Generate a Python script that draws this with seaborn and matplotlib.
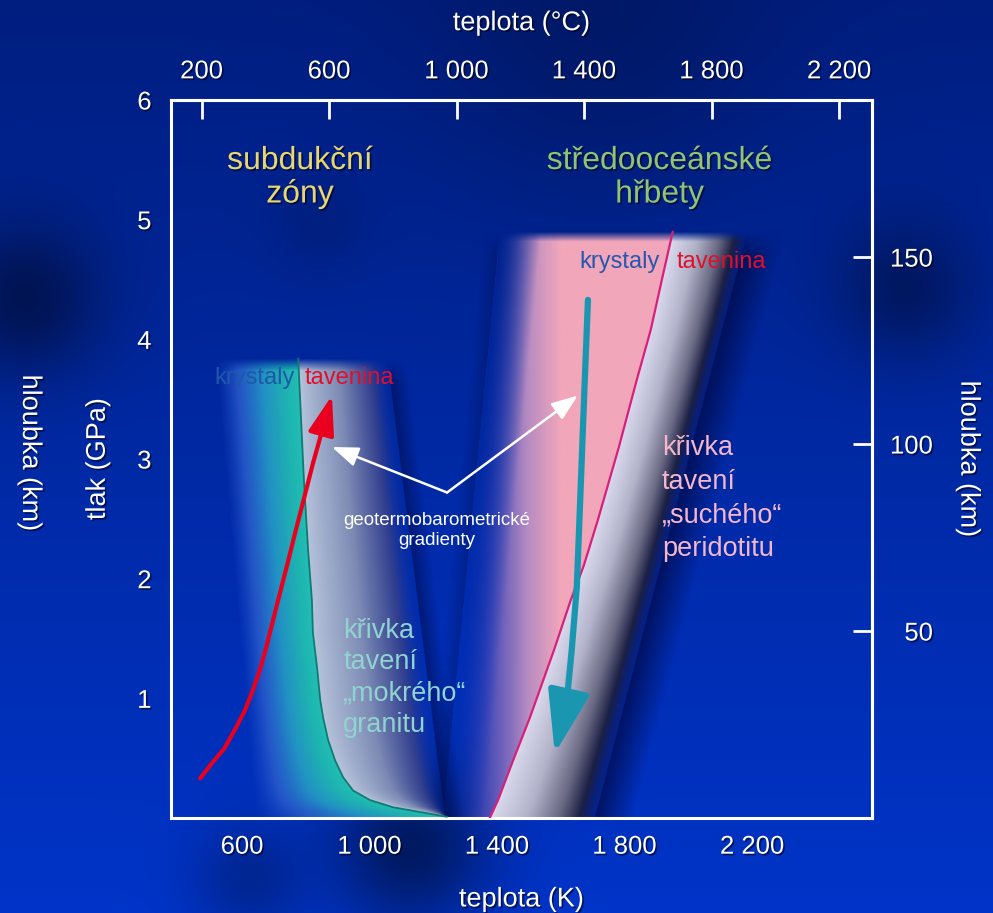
#!/usr/bin/env python
# -*- coding: utf-8 -*-

import numpy as np
import matplotlib
matplotlib.use("Agg")
import matplotlib.pyplot as plt
import matplotlib.patheffects as pe
from matplotlib.colors import LinearSegmentedColormap, to_rgba
import seaborn as sns

# axis ranges (temperature in K, pressure in GPa)
T_MIN, T_MAX = 377, 2576
P_MIN, P_MAX = 0, 6
KM_PER_GPA = 32.0

kelvin_ticks = [600, 1000, 1400, 1800, 2200]
celsius_ticks = [200, 600, 1000, 1400, 1800, 2200]
pressure_ticks = [1, 2, 3, 4, 5, 6]
depth_ticks = [50, 100, 150]

# solidus of wet granite
granite_T = [776, 785, 794, 807, 819, 822, 835, 845, 854, 870, 892, 917, 948, 1001, 1073, 1158, 1243]
granite_P = [3.84, 3.33, 2.82, 2.24, 1.82, 1.55, 1.26, 0.99, 0.84, 0.65, 0.48, 0.34, 0.23, 0.15,
             0.09, 0.05, 0.01]

# solidus of dry peridotite
peridotite_T = [1951, 1917, 1882, 1838, 1782, 1716, 1672, 1631, 1578, 1503, 1450, 1403, 1377]
peridotite_P = [4.90, 4.50, 4.08, 3.66, 3.10, 2.49, 2.11, 1.82, 1.40, 0.84, 0.48, 0.15, 0.0]

# shaded P-T fields (edges at P = 0 and at the top of the field)
subduction_top = 3.84
subduction_left = [641, 515]
subduction_right = [1236, 1055]
ridge_top = 4.90
ridge_left = [1230, 1409]
ridge_right = [1707, 2186]

# geotherm paths
subduction_path_T = [468, 509, 544, 578, 609, 634, 656, 675, 694, 713, 741, 769, 797, 823, 882]
subduction_path_P = [0.33, 0.47, 0.58, 0.74, 0.90, 1.07, 1.24, 1.42, 1.62, 1.82, 2.11, 2.41,
                     2.70, 2.97, 3.53]
ridge_path_T = [1685, 1675, 1663, 1650, 1634, 1619, 1581]
ridge_path_P = [4.33, 3.66, 2.82, 1.93, 1.40, 0.99, 0.54]

# "geotermobarometricke gradienty" pointers
pointer_T, pointer_P = 1243, 2.72
pointer_to_T = [882, 1653]
pointer_to_P = [3.10, 3.53]


def cmap(stops):
    return LinearSegmentedColormap.from_list(
        "c", [(pos, to_rgba(col, a)) for pos, col, a in stops])


def fmt(v):
    return "{:,}".format(v).replace(",", " ")


# grid for the shaded fields
TT, PP = np.meshgrid(np.linspace(T_MIN, T_MAX, 1100), np.linspace(P_MIN, P_MAX, 800))


def edges(top, left, right, melt_T, melt_P):
    tl = left[0] + (left[1] - left[0]) * PP / top
    tr = right[0] + (right[1] - right[0]) * PP / top
    order = np.argsort(melt_P)
    tm = np.interp(PP, np.array(melt_P)[order], np.array(melt_T)[order])
    return tl, tr, tm


def shadow(rgba, tl, tr, top, w_left, s_left, w_right, s_right):
    navy = np.array(to_rgba("#000A46"))
    out = np.zeros_like(rgba)
    a = np.zeros(TT.shape)
    if w_left:
        d = tl - TT
        a = np.maximum(a, np.where((d > 0) & (d < w_left), s_left * (1 - d / w_left), 0))
    if w_right:
        d = TT - tr
        a = np.maximum(a, np.where((d > 0) & (d < w_right), s_right * (1 - d / w_right), 0))
    a = a * np.clip((top - PP) / 0.2, 0, 1)
    out[...] = navy
    out[..., 3] = a
    inside = rgba[..., 3] > 0
    out[inside] = rgba[inside]
    return out


# subduction field
tl, tr, tm = edges(subduction_top, subduction_left, subduction_right, granite_T, granite_P)
f = np.clip((TT - tl) / (tm - tl), 0, 1)
g = np.clip((TT - tm) / (tr - tm), 0, 1)
solid = cmap([(0, "#2050C8", 0), (0.25, "#2A5CCC", 0.85), (0.55, "#2290C4", 1),
              (0.85, "#1EB4B0", 1), (1, "#22BEB4", 1)])
melt = cmap([(0, "#B4C2DA", 1), (0.45, "#7C8AB4", 1), (0.8, "#34408E", 0.95), (1, "#10309C", 0)])
sub_rgba = np.where((TT < tm)[..., None], solid(f), melt(g))
inside = (TT >= tl) & (TT <= tr) & (PP <= subduction_top)
sub_rgba[..., 3] *= inside * np.clip((subduction_top - PP) / 0.1, 0, 1)
sub_rgba = shadow(sub_rgba, tl, tr, subduction_top, 0, 0, 60, 0.55)

# mid-ocean ridge field
tl, tr, tm = edges(ridge_top, ridge_left, ridge_right, peridotite_T, peridotite_P)
f = np.clip((TT - 1240) / (1600 - 1240), 0, 1)
g = np.clip((TT - tm) / (tr - tm), 0, 1)
solid = cmap([(0, "#2438B4", 0.4), (0.35, "#5450B8", 0.85), (0.7, "#B48AC2", 1), (1, "#F2A6BA", 1)])
melt = cmap([(0, "#DADAEE", 1), (0.35, "#B2B2CA", 1), (0.65, "#6A6A84", 1),
             (0.85, "#1C2044", 1), (1, "#081A70", 0.6)])
ridge_rgba = np.where((TT < tm)[..., None], solid(f), melt(g))
ridge_rgba[..., 3] *= np.where(TT < tm, np.clip((TT - tl) / 130, 0, 1) ** 1.3, 1)
inside = (TT >= tl) & (TT <= tr) & (PP <= ridge_top)
ridge_rgba[..., 3] *= inside * np.clip((ridge_top - PP) / 0.08, 0, 1)
ridge_rgba = shadow(ridge_rgba, tl, tr, ridge_top, 50, 0.3, 120, 0.75)

# background
W, H = 993, 913
bg_spots = [(25, 300, 55, 0.45), (905, 290, 50, 0.35), (410, 848, 55, 0.5),
            (320, 228, 35, 0.12), (250, 880, 40, 0.25), (600, 40, 120, 0.2)]
yy, xx = np.mgrid[0:H, 0:W]
t = (yy / (H - 1))[..., None]
bg = np.array([0, 30, 128]) / 255 * (1 - t) + np.array([0, 52, 200]) / 255 * t
for cx, cy, r, s in bg_spots:
    bg = bg * (1 - s * np.exp(-((xx - cx) ** 2 + (yy - cy) ** 2) / (2 * r * r)))[..., None]

sns.set_theme(style="white")
plt.rcParams["font.family"] = ["Liberation Sans", "DejaVu Sans"]
shade = [pe.withSimplePatchShadow(offset=(1.2, -1.2), shadow_rgbFace="#000018", alpha=0.6)]

fig = plt.figure(figsize=(9.93, 9.13), dpi=100)
bg_ax = fig.add_axes([0, 0, 1, 1], zorder=0)
bg_ax.imshow(bg, extent=[0, 1, 0, 1], aspect="auto", origin="upper")
bg_ax.axis("off")

ax = fig.add_axes([171 / W, 1 - 818 / H, 701 / W, 718 / H], zorder=1)
ax.patch.set_alpha(0)

ax.imshow(ridge_rgba, extent=[T_MIN, T_MAX, P_MIN, P_MAX], origin="lower",
          aspect="auto", interpolation="bilinear", zorder=1)
ax.imshow(sub_rgba, extent=[T_MIN, T_MAX, P_MIN, P_MAX], origin="lower",
          aspect="auto", interpolation="bilinear", zorder=1)

# solidus curves
sns.lineplot(x=granite_T, y=granite_P, sort=False, estimator=None, color="#127A72", lw=1.3, ax=ax, zorder=3)
sns.lineplot(x=peridotite_T, y=peridotite_P, sort=False, estimator=None, color="#D8207A", lw=1.6, ax=ax, zorder=3)

# geotherm arrows
sns.lineplot(x=subduction_path_T[:-1], y=subduction_path_P[:-1], sort=False, estimator=None,
             color="#E8001E", lw=3, ax=ax, zorder=4)
ax.annotate("", xy=(subduction_path_T[-1], subduction_path_P[-1]),
            xytext=(subduction_path_T[-2], subduction_path_P[-2]),
            arrowprops=dict(arrowstyle="-|>,head_length=2.4,head_width=0.8", color="#E8001E",
                            lw=3, mutation_scale=10, shrinkA=0, shrinkB=0), zorder=4)
sns.lineplot(x=ridge_path_T[:-1], y=ridge_path_P[:-1], sort=False, estimator=None,
             color="#1A96B0", lw=4.5, ax=ax, zorder=4)
ax.annotate("", xy=(ridge_path_T[-1], ridge_path_P[-1]),
            xytext=(ridge_path_T[-2], ridge_path_P[-2]),
            arrowprops=dict(arrowstyle="-|>,head_length=2.4,head_width=0.8", color="#1A96B0",
                            lw=4.5, mutation_scale=16, shrinkA=0, shrinkB=0), zorder=4)

for tx, py in zip(pointer_to_T, pointer_to_P):
    ax.annotate("", xy=(tx, py), xytext=(pointer_T, pointer_P),
                arrowprops=dict(arrowstyle="-|>,head_length=0.8,head_width=0.3", color="white",
                                lw=1.8, mutation_scale=20, shrinkA=0, shrinkB=0), zorder=4)

# labels inside the plot
ax.text(782, 5.35, "subdukční\nzóny", color="#E8D672", fontsize=23, ha="center", va="center",
        linespacing=1.15, path_effects=shade, zorder=5)
ax.text(1910, 5.35, "středooceánské\nhřbety", color="#8EC474", fontsize=23, ha="center", va="center",
        linespacing=1.15, path_effects=shade, zorder=5)
ax.text(766, 3.68, "krystaly", color="#1E58A8", fontsize=17, ha="right", va="center", zorder=5)
ax.text(797, 3.68, "tavenina", color="#E0102A", fontsize=17, ha="left", va="center", zorder=5)
ax.text(1910, 4.645, "krystaly", color="#2458B0", fontsize=17, ha="right", va="center", zorder=5)
ax.text(1964, 4.645, "tavenina", color="#E0102A", fontsize=17, ha="left", va="center", zorder=5)
ax.text(917, 1.17, "křivka\ntavení\n„mokrého“\ngranitu", color="#8FD4D0", fontsize=19.5,
        ha="left", va="center", linespacing=1.27, zorder=5)
ax.text(1917, 2.67, "křivka\ntavení\n„suchého“\nperidotitu", color="#F4B6CC", fontsize=19.5,
        ha="left", va="center", linespacing=1.38, zorder=5)
ax.text(1211, 2.40, "geotermobarometrické\ngradienty", color="white", fontsize=13.5,
        ha="center", va="center", linespacing=1.25, zorder=5)

# axes
ax.set_xlim(T_MIN, T_MAX)
ax.set_ylim(P_MIN, P_MAX)
ax.set_xticks(kelvin_ticks)
ax.set_xticklabels([fmt(v) for v in kelvin_ticks])
ax.set_yticks(pressure_ticks)
ax.set_yticklabels([str(v) for v in pressure_ticks])
ax.tick_params(direction="in", length=13.5, width=2, color="white", labelcolor="white",
               labelsize=18.5)
ax.tick_params(axis="x", pad=12)
ax.tick_params(axis="y", pad=14)
ax.set_xlabel("teplota (K)", color="white", fontsize=19.5, labelpad=20)
ax.set_ylabel("tlak (GPa)", color="white", fontsize=19.5, labelpad=19)

sec_x = ax.secondary_xaxis("top", functions=(lambda k: k - 273, lambda c: c + 273))
sec_x.set_xticks(celsius_ticks)
sec_x.set_xticklabels([fmt(v) for v in celsius_ticks])
sec_x.tick_params(direction="in", length=13.5, width=2, color="white", labelcolor="white",
                  labelsize=18.5, pad=12)
sec_x.set_xlabel("teplota (°C)", color="white", fontsize=19.5, labelpad=21)

sec_y = ax.secondary_yaxis("right", functions=(lambda p: p * KM_PER_GPA, lambda km: km / KM_PER_GPA))
sec_y.set_yticks(depth_ticks)
sec_y.set_yticklabels([str(v) for v in depth_ticks])
sec_y.tick_params(direction="in", length=13.5, width=2, color="white", labelcolor="white",
                  labelsize=18.5, pad=44)
sec_y.set_ylabel("hloubka (km)", color="white", fontsize=19.5, rotation=270, va="bottom", labelpad=16)

for a in (ax, sec_x, sec_y):
    for sp in a.spines.values():
        sp.set_color("white")
        sp.set_linewidth(2.2)
for lbl in sec_y.get_yticklabels():
    lbl.set_horizontalalignment("right")

for lbl in (ax.get_xticklabels() + ax.get_yticklabels() + sec_x.get_xticklabels()
            + sec_y.get_yticklabels() + [ax.xaxis.label, ax.yaxis.label,
                                         sec_x.xaxis.label, sec_y.yaxis.label]):
    lbl.set_path_effects(shade)

fig.text(30 / W, 1 - 453 / H, "hloubka (km)", color="white", fontsize=19.5, rotation=270,
         ha="center", va="center", path_effects=shade)

fig.savefig("out.png", dpi=100)
